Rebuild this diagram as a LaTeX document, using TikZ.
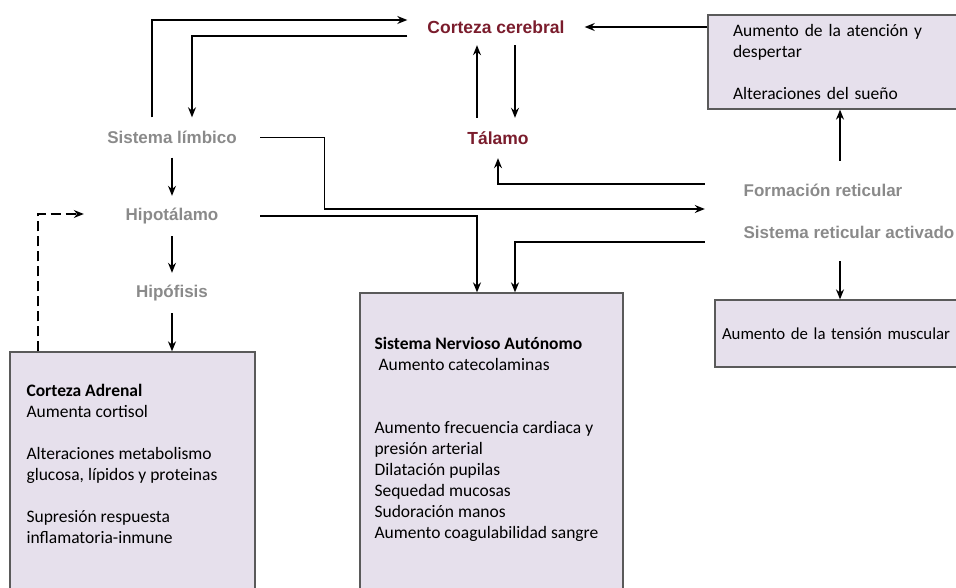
\documentclass[tikz,border=0pt]{standalone}
\usepackage{fontspec}
\setmainfont{Carlito}
\newfontfamily\arialfont{Liberation Sans}
\usetikzlibrary{arrows.meta}
\definecolor{labelgray}{RGB}{138,138,138}
\definecolor{cortexred}{RGB}{122,28,44}
\definecolor{boxfill}{RGB}{230,224,236}
\definecolor{boxline}{RGB}{90,90,90}
\begin{document}
\begin{tikzpicture}[x=1pt,y=-1pt,
    arr/.style={-{Stealth[length=10pt,width=8pt]},line width=1.3pt},
    lbl/.style={font=\arialfont\bfseries\fontsize{17}{20}\selectfont,text=labelgray,inner sep=0pt,minimum width=176,minimum height=40},
    cortex/.style={lbl,text=cortexred,font=\arialfont\bfseries\fontsize{17.5}{20}\selectfont},
    box/.style={draw=boxline,fill=boxfill,line width=1.3pt,font=\fontsize{17.5}{21}\selectfont,align=left},
    boxtext/.style={font=\fontsize{17.5}{21}\selectfont,align=left,inner sep=0pt}]
    \useasboundingbox (0,0) rectangle (956,588);
    \clip (0,0) rectangle (956,588);

    \node[cortex,minimum width=177,minimum height=36] (corteza) at (496,27) {Corteza cerebral};
    \node[cortex,minimum width=100] (talamo) at (498,138) {Tálamo};
    \node[lbl] (limbico) at (172,137.5) {Sistema límbico};
    \node[lbl] (hipotalamo) at (172,216) {Hipotálamo};
    \node[lbl] (hipofisis) at (172,293) {Hipófisis};
    \node[lbl,align=left,minimum width=288,minimum height=100] (reticular) at (849,211) {Formación reticular\\[22pt]Sistema reticular activado};

    \node[box,minimum width=264,minimum height=94,text width=214,inner xsep=25] (atencion) at (840,62) {Aumento de la atención y\\despertar\\[21pt]Alteraciones del sueño};
    \node[box,minimum width=258,minimum height=67,text width=244,inner xsep=7,font=\fontsize{16.8}{21}\selectfont] (tension) at (844,333.5) {Aumento de la tensión muscular};

    \node[box,minimum width=245,minimum height=248] (adrenal) at (132.5,476) {};
    \node[boxtext,anchor=north west] (adrenaltxt) at ([xshift=17pt,yshift=-33pt]adrenal.north west) {\textbf{Corteza Adrenal}\\Aumenta cortisol\\[21pt]Alteraciones metabolismo\\glucosa, lípidos y proteinas\\[21pt]Supresión respuesta\\inflamatoria-inmune};
    \node[box,minimum width=263,minimum height=307] (sna) at (491.5,446.5) {};
    \node[boxtext,anchor=north west] (snatxt) at ([xshift=15pt,yshift=-45pt]sna.north west) {\textbf{Sistema Nervioso Autónomo}\\\hspace{4pt}Aumento catecolaminas\\[42pt]Aumento frecuencia cardiaca y\\presión arterial\\Dilatación pupilas\\Sequedad mucosas\\Sudoración manos\\Aumento coagulabilidad sangre};

    \draw[arr] ([xshift=-20pt]limbico.north) |- ([yshift=7pt]corteza.west);
    \draw[arr] ([yshift=-9pt]corteza.west) -| ([xshift=20pt]limbico.north);
    \draw[arr] ([xshift=-21pt]talamo.north) -- ([xshift=-21pt]talamo.north |- corteza.south);
    \draw[arr] ([xshift=17pt]talamo.north |- corteza.south) -- ([xshift=17pt]talamo.north);
    \draw[arr] (atencion.west |- corteza.east) -- (corteza.east);
    \draw[arr] (atencion.south |- reticular.north) -- (atencion.south);
    \draw[arr] (atencion.south |- reticular.south) -- (atencion.south |- tension.north);
    \draw[arr] ([yshift=27pt]reticular.west) -| (talamo.south);
    \draw[arr] (limbico.east) -- ++(64,0) |- ([yshift=2pt]reticular.west);
    \draw[arr] (hipotalamo.east) -| ([xshift=-14.5pt]sna.north);
    \draw[arr] ([yshift=-31pt]reticular.west) -| ([xshift=23.5pt]sna.north);
    \draw[arr] (limbico) -- (hipotalamo);
    \draw[arr] (hipotalamo) -- (hipofisis);
    \draw[arr] (hipofisis.south) -- (hipofisis.south |- adrenal.north);
    \draw[arr,dash pattern=on 10pt off 5pt] ([xshift=-94.5pt]adrenal.north) |- ([yshift=2pt]hipotalamo.west);
\end{tikzpicture}
\end{document}
